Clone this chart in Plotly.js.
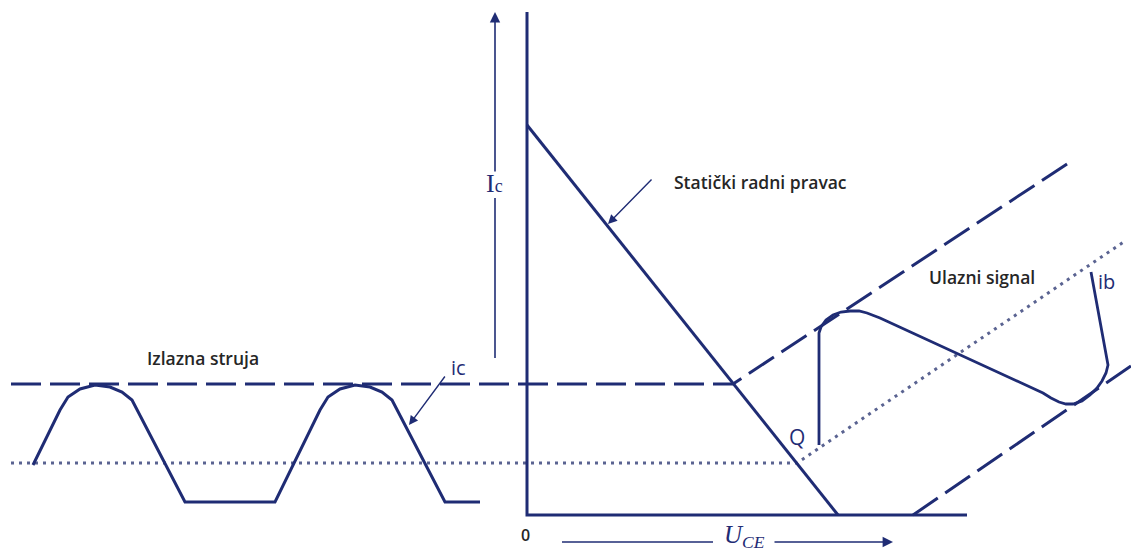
<!DOCTYPE html>
<html>
<head>
<meta charset="utf-8">
<script src="https://cdn.plot.ly/plotly-3.0.1.min.js"></script>
<style>html,body{margin:0;padding:0;background:#fff;}</style>
</head>
<body>
<div id="chart" style="width:1131px;height:553px;"></div>
<script>

// diagram, in picture units (x right, y down)
var axisX = [527, 527, 967];
var axisY = [12, 515, 515];

var loadLineX = [527, 838];
var loadLineY = [125, 515];

var satLineX = [11, 733, 1070];
var satLineY = [384, 384, 162];

var qLineX = [11, 797, 1125];
var qLineY = [463, 463, 241];

var cutLineX = [913, 1131];
var cutLineY = [515, 366];

var icWaveX = [33, 60, 68, 80, 95, 110, 122, 132, 185, 275, 320, 328, 340, 355, 370, 382, 392, 445, 480];
var icWaveY = [465, 410, 397, 389, 385, 387, 392, 400, 502, 502, 410, 397, 389, 385, 387, 392, 400, 502, 502];

var ibWaveX = [819, 819, 821, 826, 833, 841, 850, 859, 867, 880, 1043, 1051, 1059, 1066, 1073, 1082, 1090, 1097, 1102, 1106, 1108, 1091];
var ibWaveY = [445, 333, 327, 320, 315, 312, 311, 311, 313, 318, 393, 398, 402, 404, 404, 401, 395, 388, 381, 373, 365, 272];

var icAxisX = [495, 495];
var icAxisY = [198, 358];

var uceLeftX = [562, 713];
var uceLeftY = [542, 542];

var navy = '#1f2c74';
var ink = '#262626';

function line(x, y, width, dash, color) {
    return {x: x, y: y, type: 'scatter', mode: 'lines', hoverinfo: 'skip',
            line: {color: color || navy, width: width, dash: dash || 'solid'}};
}

var traces = [
    line(satLineX, satLineY, 3, '30px,9px'),
    line(cutLineX, cutLineY, 3, '30px,9px'),
    line(qLineX, qLineY, 3, '3px,5px', '#5a6391'),
    line(axisX, axisY, 3),
    line(loadLineX, loadLineY, 3),
    line(icWaveX, icWaveY, 3),
    line(ibWaveX, ibWaveY, 2.8),
    line(icAxisX, icAxisY, 1.6),
    line(uceLeftX, uceLeftY, 1.6)
];

function label(x, y, text, font) {
    return {x: x, y: y, xref: 'x', yref: 'y', text: text, showarrow: false,
            xanchor: 'center', yanchor: 'middle', font: font};
}

function arrow(x, y, ax, ay, width) {
    return {x: x, y: y, ax: ax, ay: ay, xref: 'x', yref: 'y', axref: 'x', ayref: 'y',
            text: '', showarrow: true, arrowhead: 2, arrowsize: 1.3, arrowwidth: width,
            arrowcolor: navy, standoff: 0, startstandoff: 0};
}

var sans = {family: 'Open Sans', size: 17.5, color: ink, weight: 600};

var annotations = [
    label(760, 182, 'Statički radni pravac', sans),
    label(203, 358, 'Izlazna struja', sans),
    label(982, 277, 'Ulazni signal', sans),
    label(458, 367, 'ic', {family: 'Open Sans', size: 20, color: navy}),
    label(1106, 281, 'ib', {family: 'Open Sans', size: 20, color: navy}),
    label(797, 437, 'Q', {family: 'Open Sans', size: 21, color: navy}),
    label(525, 535, '0', {family: 'Open Sans', size: 16, color: ink, weight: 600}),
    label(494, 183, "I<span style='font-size:18px'>c</span>", {family: 'Liberation Serif', size: 26, color: navy}),
    label(744, 536, "<i>U<sub>CE</sub></i>", {family: 'Liberation Serif', size: 25, color: navy}),
    arrow(495, 12, 495, 173, 1.6),
    arrow(893, 542, 773, 542, 1.6),
    arrow(608, 224, 653, 178, 1.4),
    arrow(409, 425, 446, 375, 1.4)
];

var layout = {
    width: 1131,
    height: 553,
    margin: {l: 0, r: 0, t: 0, b: 0},
    paper_bgcolor: '#ffffff',
    plot_bgcolor: '#ffffff',
    showlegend: false,
    xaxis: {range: [0, 1131], visible: false, fixedrange: true},
    yaxis: {range: [553, 0], visible: false, fixedrange: true},
    annotations: annotations
};

Plotly.newPlot('chart', traces, layout, {displayModeBar: false, staticPlot: true});

</script>
</body>
</html>
